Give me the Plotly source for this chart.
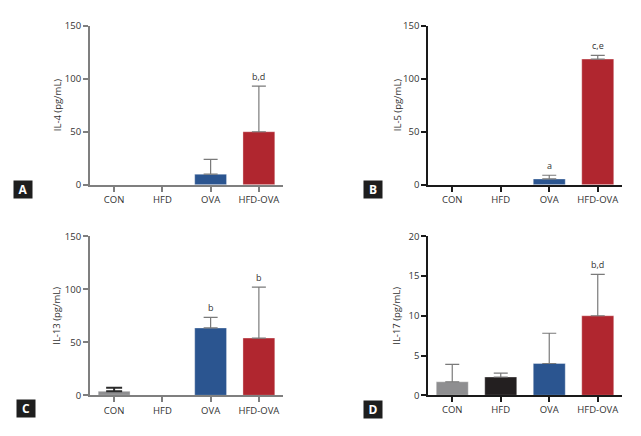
import plotly.graph_objects as go

categories = ["CON", "HFD", "OVA", "HFD-OVA"]
colors = ["#8e8e90", "#231f20", "#2b5590", "#b0262f"]

il4_mean = [0, 0, 10, 50]
il4_err = [0, 0, 24, 93]
il4_sig = ["", "", "", "b,d"]

il5_mean = [0, 0, 5.5, 118.5]
il5_err = [0, 0, 9, 122]
il5_sig = ["", "", "a", "c,e"]

il13_mean = [3.8, 0, 63.5, 54]
il13_err = [7.2, 0, 73.5, 102]
il13_sig = ["", "", "b", "b"]

il17_mean = [1.7, 2.3, 4.0, 10.0]
il17_err = [3.9, 2.8, 7.8, 15.2]
il17_sig = ["", "", "", "b,d"]

GREY_ERR = "#7a7a7a"
DARK_ERR = "#2a2a2a"

panels = [
    dict(mean=il4_mean, err=il4_err, sig=il4_sig, title="IL-4 (pg/mL)", ymax=150, dtick=50,
         letter="A", axc="#7f7f7f", axw=2, errc=[GREY_ERR] * 4),
    dict(mean=il5_mean, err=il5_err, sig=il5_sig, title="IL-5 (pg/mL)", ymax=150, dtick=50,
         letter="B", axc="#1a1a1a", axw=1.5, errc=[GREY_ERR] * 4),
    dict(mean=il13_mean, err=il13_err, sig=il13_sig, title="IL-13 (pg/mL)", ymax=150, dtick=50,
         letter="C", axc="#7f7f7f", axw=2, errc=[DARK_ERR, GREY_ERR, GREY_ERR, GREY_ERR]),
    dict(mean=il17_mean, err=il17_err, sig=il17_sig, title="IL-17 (pg/mL)", ymax=20, dtick=5,
         letter="D", axc="#1a1a1a", axw=1.5, errc=[GREY_ERR] * 4),
]

W, H = 641, 436
OFF = 8  # page body margin of the browser


def px_x(p):
    return (p - OFF) / W


def px_y(p):
    return 1 - (p - OFF) / H


xdoms = [(px_x(90), px_x(283)), (px_x(428), px_x(622))]
ydoms = [(px_y(183), px_y(19)), (px_y(400), px_y(236))]
title_x = [57, 397]
letter_pos = [(23, 188), (373, 188), (26, 414), (373, 415)]

FONT = "Open Sans"
fig = go.Figure()
layout = {}
annotations = []

for i, p in enumerate(panels):
    col = i % 2
    row = i // 2
    n = i + 1
    xa = "x" if n == 1 else f"x{n}"
    ya = "y" if n == 1 else f"y{n}"
    xkey = "xaxis" if n == 1 else f"xaxis{n}"
    ykey = "yaxis" if n == 1 else f"yaxis{n}"
    for c, m, e, bc, ec in zip(categories, p["mean"], p["err"], colors, p["errc"]):
        if m <= 0:
            continue
        fig.add_trace(go.Bar(
            x=[c], y=[m], xaxis=xa, yaxis=ya,
            marker=dict(color=bc, line=dict(color="rgba(255,255,255,0.35)", width=1)),
            width=0.66,
            error_y=dict(type="data", symmetric=False, array=[max(e - m, 0)],
                         arrayminus=[0], color=ec,
                         thickness=2 if ec == DARK_ERR else 1.2,
                         width=8 if ec == DARK_ERR else 7),
            showlegend=False, hoverinfo="skip",
        ))
    layout[xkey] = dict(
        domain=list(xdoms[col]), anchor=ya, type="category", range=[-0.5, 3.5],
        categoryorder="array", categoryarray=categories,
        showline=True, linecolor=p["axc"], linewidth=p["axw"],
        ticks="outside", ticklen=5, tickcolor=p["axc"], tickwidth=1.5,
        tickfont=dict(family=FONT, size=9.5, color="#333333"),
        showgrid=False, zeroline=False, fixedrange=True,
    )
    layout[ykey] = dict(
        domain=list(ydoms[row]), anchor=xa, range=[0, p["ymax"]], dtick=p["dtick"],
        showline=True, linecolor=p["axc"], linewidth=p["axw"],
        ticks="outside", ticklen=5, tickcolor=p["axc"], tickwidth=1.5,
        tickfont=dict(family=FONT, size=9.5, color="#333333"),
        showgrid=False, zeroline=False, fixedrange=True,
    )
    yc = (ydoms[row][0] + ydoms[row][1]) / 2
    annotations.append(dict(
        text=p["title"], xref="paper", yref="paper", x=px_x(title_x[col]), y=yc,
        textangle=-90, showarrow=False, xanchor="center", yanchor="middle",
        font=dict(family=FONT, size=9.5, color="#333333"),
    ))
    for c, s, e in zip(categories, p["sig"], p["err"]):
        if s:
            annotations.append(dict(
                text=s, x=c, y=e, xref=xa, yref=ya, showarrow=False,
                yanchor="bottom", yshift=1,
                font=dict(family=FONT, size=9, color="#333333"),
            ))
    lx, ly = letter_pos[i]
    annotations.append(dict(
        text="<b>" + p["letter"] + "</b>", xref="paper", yref="paper",
        x=px_x(lx), y=px_y(ly), showarrow=False, xanchor="center", yanchor="middle",
        bgcolor="#1e1e1e", width=18, height=17, borderpad=0,
        font=dict(family=FONT, size=12, color="white"),
    ))

fig.update_layout(
    width=W, height=H, margin=dict(l=0, r=0, t=0, b=0),
    paper_bgcolor="white", plot_bgcolor="white", barmode="overlay",
    annotations=annotations, **layout,
)
fig.write_html("out.html")
